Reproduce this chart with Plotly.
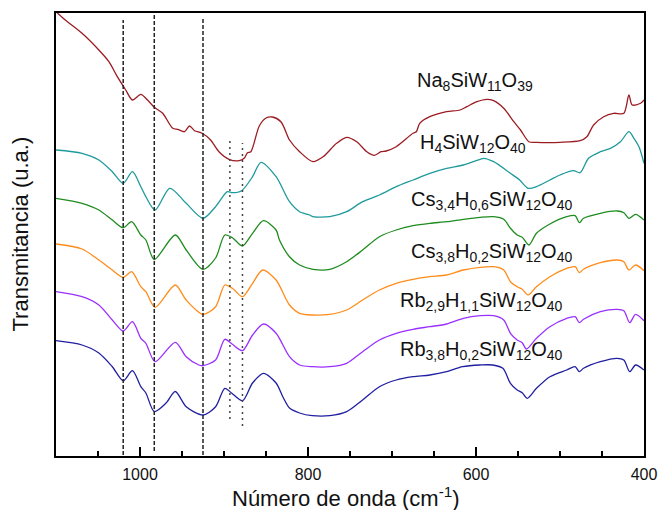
import plotly.graph_objects as go

# ---- data (transmittance, arbitrary units, offset spectra) ----
w_rb38 = [1100, 1069, 1049, 1033, 1020, 1009, 999, 993, 983, 969, 958, 945, 925, 910, 899, 891, 878, 866, 853, 838, 830, 822, 810, 795, 774, 754, 735, 715, 695, 675, 655, 635, 616, 595, 580, 568, 559, 551, 545, 539, 528, 512, 492, 482, 477, 472, 452, 432, 424, 417, 410, 400]
t_rb38 = [115.3, 111, 103, 89.3, 75.3, 85.3, 69.3, 63, 44.5, 53, 64.5, 49.3, 41, 49.3, 67.7, 63, 55.3, 73, 82.7, 73, 59.3, 48, 43, 40.3, 40.3, 44.3, 56, 69.3, 76, 79.3, 81, 84.3, 89.3, 91, 91, 87.7, 72.7, 66, 63.3, 57.7, 67.7, 79.3, 86, 89.3, 84.3, 87.7, 94.3, 97.7, 96, 84.3, 91, 86]

w_rb29 = [1100, 1069, 1049, 1033, 1020, 1009, 999, 993, 982, 958, 945, 930, 925, 910, 899, 890, 878, 866, 853, 838, 822, 810, 795, 774, 754, 735, 715, 695, 675, 655, 635, 615, 595, 579, 567, 559, 551, 545, 540, 528, 512, 492, 482, 477, 472, 452, 432, 424, 417, 410, 400]
t_rb29 = [164.3, 159.3, 151, 136, 125, 134.3, 117.7, 112.7, 94.3, 113.7, 99.3, 91, 90.3, 96, 116.7, 111.7, 105.3, 121, 132, 122.7, 99.3, 91, 89.3, 89.3, 92.7, 104.3, 116, 122.7, 126.7, 129.3, 132, 137.7, 140.3, 140.3, 136, 122.7, 116, 113.3, 107, 117.7, 129.3, 137.7, 139.3, 133.3, 136.7, 144.3, 146.7, 145.3, 133.3, 141.7, 135.3]

w_cs38 = [1100, 1069, 1049, 1033, 1020, 1010, 999, 993, 982, 958, 945, 925, 910, 899, 890, 878, 866, 854, 838, 822, 810, 795, 774, 754, 735, 715, 695, 675, 655, 635, 615, 595, 579, 567, 559, 551, 545, 538, 528, 512, 492, 482, 477, 472, 452, 432, 424, 418, 410, 400]
t_cs38 = [212, 207, 196, 186, 178.7, 184.3, 169.3, 164.3, 148.7, 171, 156, 141.7, 149.3, 171, 167.7, 159.3, 172.7, 186, 176, 151, 142.7, 141, 141.7, 146, 156, 166, 172.7, 176.7, 179.3, 181, 186, 188.7, 189.3, 186, 174.3, 169.3, 166.7, 161, 169.3, 179.3, 187.7, 189.3, 183.3, 186.7, 193.3, 196, 194.3, 186, 191, 185.3]

w_cs34 = [1100, 1069, 1049, 1033, 1020, 1010, 999, 993, 983, 958, 945, 925, 910, 899, 890, 878, 866, 853, 838, 834, 822, 810, 794, 774, 754, 735, 715, 695, 675, 655, 635, 615, 595, 579, 567, 559, 551, 545, 537, 528, 512, 492, 482, 477, 472, 452, 432, 424, 418, 410, 400]
t_cs34 = [257.7, 252.7, 246, 236, 228.3, 234.3, 221, 216, 196.5, 221, 206, 186.7, 198, 221, 218.3, 210, 222.7, 235.3, 226, 216, 199.3, 191, 186.7, 186.7, 194.3, 206, 219.3, 226, 230.3, 232.7, 234.3, 236.7, 238.7, 239.3, 236.7, 227.7, 221, 218.7, 211, 222.7, 232, 239.3, 240.3, 233.3, 237.7, 242.7, 245, 243.3, 237.7, 241.7, 236]

w_h4 = [1100, 1069, 1049, 1033, 1020, 1009, 999, 993, 982, 964.5, 945, 925, 910, 896, 890, 879, 866, 856, 838, 822, 810, 798, 794, 774, 754, 735, 715, 695, 675, 655, 635, 615, 595, 591, 579, 559, 548, 538, 528, 512, 500, 484, 476, 466, 452, 440, 428, 418, 412, 406, 400]
t_h4 = [306, 302.7, 296, 284.3, 272.7, 284.3, 269.3, 259.3, 246, 267.7, 252.7, 237.7, 249.3, 264.3, 263.3, 265.3, 279.3, 293.7, 279.3, 254.3, 244.3, 241, 239.3, 239.3, 244.3, 254.3, 261, 269.3, 276, 282.7, 287.7, 291, 296.7, 297.7, 294.3, 282.7, 276, 267.7, 269.3, 276, 281, 285.3, 283.3, 297.7, 304.3, 307.7, 314.3, 324.3, 317.7, 309.3, 292.7]

w_na8 = [1100, 1089, 1069, 1049, 1037, 1027, 1017, 1009, 999, 991, 983, 973, 961, 955, 947, 941, 935, 926, 916, 906, 894, 882, 876, 872, 868, 858, 850, 842, 832, 822, 810, 794, 782, 766, 754, 742, 730, 721, 713, 707, 695, 675, 671, 667, 655, 635, 619, 611, 599, 587, 579, 567, 555, 547, 537, 528, 500, 476, 468, 460, 448, 436, 424, 418, 414, 404, 400]
t_na8 = [444.3, 436, 422.7, 406, 394.3, 379.3, 366, 356, 361.7, 356, 348.7, 342.7, 327.7, 326.7, 324.3, 330, 325.3, 322.7, 316, 304.3, 296.7, 295.3, 297.7, 303.3, 304.3, 330, 338, 339, 334, 316, 304.3, 294.3, 299.3, 312.7, 318.7, 314.3, 304.3, 300.7, 304.3, 305, 309.3, 322.7, 324.3, 332.7, 339.3, 344.3, 346, 349.3, 354.3, 356.7, 355.3, 347.7, 334.3, 326, 314.3, 313.7, 313.7, 315.3, 319.3, 331, 339.3, 342.7, 342.7, 361, 351, 352.7, 356]

series = [
    ("Na<sub>8</sub>SiW<sub>11</sub>O<sub>39</sub>", w_na8, t_na8, "#9b1c22"),
    ("H<sub>4</sub>SiW<sub>12</sub>O<sub>40</sub>", w_h4, t_h4, "#1f9a9c"),
    ("Cs<sub>3,4</sub>H<sub>0,6</sub>SiW<sub>12</sub>O<sub>40</sub>", w_cs34, t_cs34, "#1e8c1e"),
    ("Cs<sub>3,8</sub>H<sub>0,2</sub>SiW<sub>12</sub>O<sub>40</sub>", w_cs38, t_cs38, "#ff8c1a"),
    ("Rb<sub>2,9</sub>H<sub>1,1</sub>SiW<sub>12</sub>O<sub>40</sub>", w_rb29, t_rb29, "#9a30ff"),
    ("Rb<sub>3,8</sub>H<sub>0,2</sub>SiW<sub>12</sub>O<sub>40</sub>", w_rb38, t_rb38, "#1f1fa0"),
]

# label positions (wavenumber, transmittance)
label_w = [601, 603, 581.5, 582, 593.4, 593.4]
label_t = [375, 313, 256, 204, 155, 106]

# reference band positions
dashed_w = [1020, 983, 925]
dashed_lo = [1, 5, 1]
dashed_hi = [436, 443, 439]
dotted_w = [893, 878]
dotted_lo = [37, 30]
dotted_hi = [319, 313]

xticks = [1000, 800, 600, 400]

fig = go.Figure()
for name, w, t, c in series:
    fig.add_trace(go.Scatter(x=w, y=t, mode="lines", name=name,
                             line=dict(color=c, width=1.3, shape="spline", smoothing=0.8),
                             showlegend=False, hoverinfo="skip"))

shapes = []
for xv, lo, hi in zip(dashed_w, dashed_lo, dashed_hi):
    shapes.append(dict(type="line", xref="x", yref="y", x0=xv, x1=xv, y0=lo, y1=hi,
                       line=dict(color="#222222", width=1.5, dash="4px,2px")))
for xv, lo, hi in zip(dotted_w, dotted_lo, dotted_hi):
    shapes.append(dict(type="line", xref="x", yref="y", x0=xv, x1=xv, y0=lo, y1=hi,
                       line=dict(color="#444444", width=1.5, dash="2px,4px")))

annotations = []
for (name, w, t, c), lw, lt in zip(series, label_w, label_t):
    annotations.append(dict(x=lw, y=lt, xref="x", yref="y", text=name, showarrow=False,
                            xanchor="center", yanchor="middle",
                            font=dict(size=20, color="#111111")))
annotations.append(dict(x=0, y=0.5, xref="paper", yref="paper", xshift=-36,
                        text="Transmitancia (u.a.)", textangle=-90, showarrow=False,
                        xanchor="center", yanchor="middle", font=dict(size=22, color="#111111")))
annotations.append(dict(x=0.493, y=0, xref="paper", yref="paper", yshift=-41,
                        text="Número de onda (cm<sup>-1</sup>)", showarrow=False,
                        xanchor="center", yanchor="middle", font=dict(size=22, color="#111111")))

fig.update_layout(
    width=658, height=510, autosize=False,
    margin=dict(l=56, r=14, t=13, b=54),
    paper_bgcolor="white", plot_bgcolor="white",
    font=dict(family="Arial, Liberation Sans, sans-serif", color="#111111"),
    shapes=shapes, annotations=annotations,
)
fig.update_xaxes(range=[1100, 400], tickvals=xticks, ticktext=[str(v) for v in xticks],
                 automargin=False,
                 ticks="inside", ticklen=9, tickwidth=1.5, tickcolor="black", ticklabelstandoff=3,
                 minor=dict(dtick=50, ticks="inside", ticklen=5, tickwidth=1.5, tickcolor="black", showgrid=False),
                 showline=True, linewidth=2, linecolor="black", mirror=True,
                 showgrid=False, zeroline=False, tickfont=dict(size=16, color="#111111"))
fig.update_yaxes(range=[0, 443], showticklabels=False, ticks="", automargin=False,
                 showline=True, linewidth=2, linecolor="black", mirror=True,
                 showgrid=False, zeroline=False)

# remove the browser's default body margin so the 658x510 figure fills the window exactly
fig.write_html("out.html",
               config={"displayModeBar": False, "responsive": False},
               post_script="document.body.style.margin='0';document.body.style.overflow='hidden';")
